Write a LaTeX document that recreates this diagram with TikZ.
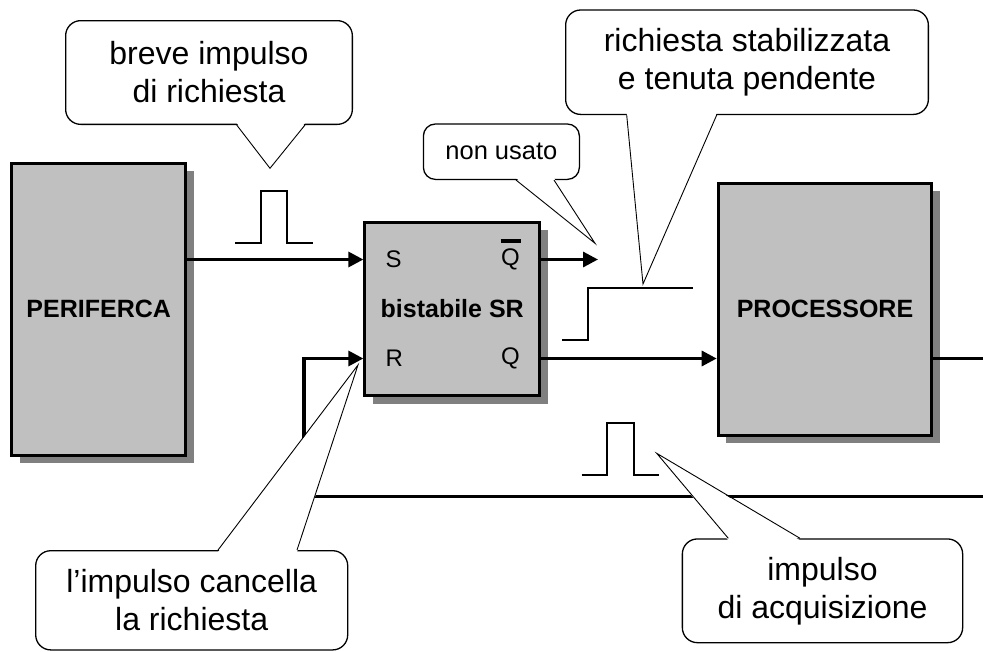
\documentclass[tikz,border=0pt]{standalone}
\usepackage{fontspec}
\setmainfont{Liberation Sans}
\usetikzlibrary{arrows.meta,positioning,shadows}
\definecolor{boxgray}{HTML}{C0C0C0}
\definecolor{shadowgray}{HTML}{808080}

\begin{document}
\begin{tikzpicture}[
    x=1pt, y=-1pt,
    block/.style={draw, line width=3pt, fill=boxgray, inner sep=0pt,
        general shadow={fill=shadowgray, shadow xshift=8pt, shadow yshift=-8pt},
        font=\fontsize{25}{30}\selectfont\bfseries},
    pin/.style={inner sep=0pt, font=\fontsize{24}{29}\selectfont},
    note/.style={draw, line width=1.3pt, rounded corners=15pt, fill=white, align=center,
        inner sep=0pt, font=\fontsize{32}{38}\selectfont},
    arrow/.style={-{Triangle[length=15pt,width=15pt]}, line width=3.2pt},
    wire/.style={line width=3pt},
    wave/.style={line width=2.3pt},
    ptr/.style={line width=0.9pt}
]
    \useasboundingbox (0,0) rectangle (983,651);

    % blocchi
    \node[block, minimum width=174.3pt, minimum height=292pt] (per) at (98.7,309.2) {PERIFERCA};
    \node[block, minimum width=174.7pt, minimum height=173.6pt] (sr) at (452.2,309) {bistabile SR};
    \node[block, minimum width=213.6pt, minimum height=252pt] (proc) at (825,309.2) {PROCESSORE};

    \coordinate (sIn) at ([yshift=49.5pt]sr.west);
    \coordinate (rIn) at ([yshift=-49.5pt]sr.west);
    \coordinate (qbOut) at ([yshift=49.5pt]sr.east);
    \coordinate (qOut) at ([yshift=-49.5pt]sr.east);

    \node[pin, right=22pt of sIn] (sLab) {S};
    \node[pin, right=22pt of rIn] (rLab) {R};
    \node[pin, left=21pt of qbOut] (qbLab) {Q};
    \node[pin, left=21pt of qOut] (qLab) {Q};
    \draw[line width=3.5pt] ([xshift=-10pt,yshift=18.5pt]qbLab.center) -- ([xshift=10pt,yshift=18.5pt]qbLab.center);

    % collegamenti
    \coordinate (qbEnd) at (598,259.5);
    \coordinate (ackEnd) at (983,496.7);
    \coordinate (rTurn) at (304,358.5);
    \coordinate (procOut) at (983,358.5);

    \draw[arrow] (per.east |- sIn) -- (sIn);
    \draw[arrow] (ackEnd) -| (rTurn) -- (rIn);
    \draw[arrow] (qbOut) -- (qbEnd);
    \draw[arrow] (qOut) -- (proc.west |- qOut);
    \draw[wire, line width=2.3pt] (proc.east |- qOut) -- (procOut);

    % forme d'onda
    \draw[wave] (235,242.7) -| (260.7,190.7) -| (286.7,242.7) -- (313.3,242.7);
    \draw[wave] (562,340) -| (588,288.3) -- (692.7,288.3);
    \draw[wave] (581.7,475) -| (607.3,423.3) -| (634,475) -- (659,475);

    % fumetti
    \node[note, minimum width=286.7pt, minimum height=103.7pt] (breve) at (209,72.5) {breve impulso\\di richiesta};
    \node[note, minimum width=362.7pt, minimum height=104.4pt] (stab) at (747,62.2) {richiesta stabilizzata\\e tenuta pendente};
    \node[note, rounded corners=12pt, font=\fontsize{25.5}{30}\selectfont, minimum width=156pt, minimum height=55.4pt] (unused) at (501.4,151.7) {non usato};
    \node[note, minimum width=312pt, minimum height=99.2pt] (reset) at (191.7,600.3) {l’impulso cancella\\la richiesta};
    \node[note, minimum width=280.3pt, minimum height=103.7pt] (ack) at (822.5,590.8) {impulso\\di acquisizione};

    \coordinate (breveTip) at (270,168.3);
    \coordinate (stabTip) at (643,284);
    \coordinate (unusedTip) at (595,243.3);
    \coordinate (resetTip) at (358,365);
    \coordinate (ackTip) at (656.7,453.3);

    \fill[white] ([xshift=27.7pt,yshift=2pt]breve.south) -- (breveTip) -- ([xshift=96pt,yshift=2pt]breve.south) -- cycle;
    \draw[ptr] ([xshift=27.7pt]breve.south) -- (breveTip) -- ([xshift=96pt]breve.south);

    \fill[white] ([xshift=-120.3pt,yshift=2pt]stab.south) -- (stabTip) -- ([xshift=-30.3pt,yshift=2pt]stab.south) -- cycle;
    \draw[ptr] ([xshift=-120.3pt]stab.south) -- (stabTip) -- ([xshift=-30.3pt]stab.south);

    \fill[white] ([xshift=14.6pt,yshift=2pt]unused.south) -- (unusedTip) -- ([xshift=52.6pt,yshift=2pt]unused.south) -- cycle;
    \draw[ptr] ([xshift=14.6pt]unused.south) -- (unusedTip) -- ([xshift=52.6pt]unused.south);

    \fill[white] ([xshift=26.3pt,yshift=-2pt]reset.north) -- (resetTip) -- ([xshift=105.3pt,yshift=-2pt]reset.north) -- cycle;
    \draw[ptr] ([xshift=26.3pt]reset.north) -- (resetTip) -- ([xshift=105.3pt]reset.north);

    \fill[white] ([xshift=-94.2pt,yshift=-2pt]ack.north) -- (ackTip) -- ([xshift=-22.5pt,yshift=-2pt]ack.north) -- cycle;
    \draw[ptr] ([xshift=-94.2pt]ack.north) -- (ackTip) -- ([xshift=-22.5pt]ack.north);

\end{tikzpicture}
\end{document}
